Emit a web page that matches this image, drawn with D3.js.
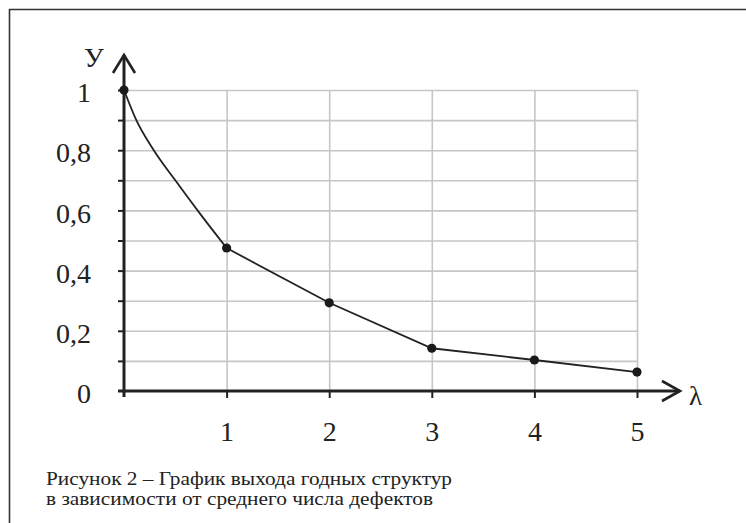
<!DOCTYPE html>
<html>
<head>
<meta charset="utf-8">
<script src="https://cdn.jsdelivr.net/npm/d3@7"></script>
<style>
  html, body { margin: 0; padding: 0; background: #fff; }
  svg { display: block; }
  text { font-family: "Liberation Serif", "Times New Roman", "DejaVu Serif", serif; fill: #222; }
</style>
</head>
<body>
<svg id="chart" width="746" height="523"></svg>
<script>
// данные
var lambdaTicks = [1, 2, 3, 4, 5];
var yLabelTicks = [0, 0.2, 0.4, 0.6, 0.8, 1];
var yLabelText = ["0", "0,2", "0,4", "0,6", "0,8", "1"];
var yGridTicks = [0.1, 0.2, 0.3, 0.4, 0.5, 0.6, 0.7, 0.8, 0.9, 1];
var lambdaPts = [0, 1, 2, 3, 4, 5];
var yieldPts = [1, 0.475, 0.293, 0.142, 0.103, 0.063];
// плавный участок кривой между 0 и 1
var curveLambda = [0, 0.12, 0.29, 0.5, 0.75, 1];
var curveYield = [1, 0.9, 0.8, 0.7, 0.585, 0.475];
var captionLines = ["Рисунок 2 – График выхода годных структур",
                    "в зависимости от среднего числа дефектов"];

var serif = "'Liberation Serif', 'Times New Roman', 'DejaVu Serif', serif";
var svg = d3.select("#chart");

var x = d3.scaleLinear().domain([0, 5]).range([124, 637]);
var y = d3.scaleLinear().domain([0, 1]).range([391, 90]);

// рамка (верх и лево)
svg.append("path")
  .attr("d", "M9.5,523 L9.5,9.5 L746,9.5")
  .attr("fill", "none")
  .attr("stroke", "#333")
  .attr("stroke-width", 1.6);

// сетка
svg.append("g")
  .attr("transform", "translate(0," + y(0) + ")")
  .call(d3.axisBottom(x).tickValues(lambdaTicks).tickSize(-(y(0) - y(1))).tickFormat(""))
  .call(function(g) { g.select(".domain").remove(); })
  .selectAll("line").attr("stroke", "#c6c6c6").attr("stroke-width", 1.6);

svg.append("g")
  .attr("transform", "translate(" + x(0) + ",0)")
  .call(d3.axisLeft(y).tickValues(yGridTicks).tickSize(-(x(5) - x(0))).tickFormat(""))
  .call(function(g) { g.select(".domain").remove(); })
  .selectAll("line").attr("stroke", "#c6c6c6").attr("stroke-width", 1.6);

// засечки на осях
svg.append("g")
  .attr("transform", "translate(" + x(0) + ",0)")
  .call(d3.axisLeft(y).tickValues(yGridTicks).tickSize(6).tickFormat(""))
  .call(function(g) { g.select(".domain").remove(); })
  .selectAll("line").attr("stroke", "#222").attr("stroke-width", 2);

svg.append("g")
  .attr("transform", "translate(0," + y(0) + ")")
  .call(d3.axisBottom(x).tickValues(lambdaTicks).tickSize(7).tickFormat(""))
  .call(function(g) { g.select(".domain").remove(); })
  .selectAll("line").attr("stroke", "#222").attr("stroke-width", 2);

// подписи осей
var yAx = svg.append("g")
  .attr("transform", "translate(" + x(0) + ",0)")
  .attr("font-family", serif)
  .call(d3.axisLeft(y).tickValues(yLabelTicks).tickSize(0).tickPadding(33)
    .tickFormat(function(d, i) { return yLabelText[i]; }));
yAx.select(".domain").remove();
yAx.selectAll("text")
  .attr("font-size", 28).attr("dy", "0.42em").attr("fill", "#222");

var xAx = svg.append("g")
  .attr("transform", "translate(0," + y(0) + ")")
  .call(d3.axisBottom(x).tickValues(lambdaTicks).tickSize(0).tickPadding(30)
    .tickFormat(d3.format("d")));
xAx.attr("font-family", serif);
xAx.select(".domain").remove();
xAx.selectAll("text")
  .attr("font-size", 28).attr("fill", "#222");

// оси со стрелками
svg.append("line")
  .attr("x1", x(0) - 6).attr("x2", 680)
  .attr("y1", y(0)).attr("y2", y(0))
  .attr("stroke", "#222").attr("stroke-width", 3);
svg.append("path")
  .attr("d", "M662,381 L680," + y(0) + " L662,401")
  .attr("fill", "none").attr("stroke", "#222").attr("stroke-width", 2.6);

svg.append("line")
  .attr("x1", x(0)).attr("x2", x(0))
  .attr("y1", y(0) + 6).attr("y2", 55)
  .attr("stroke", "#222").attr("stroke-width", 3);
svg.append("path")
  .attr("d", "M" + (x(0) - 11) + ",73 L" + x(0) + ",55 L" + (x(0) + 11) + ",73")
  .attr("fill", "none").attr("stroke", "#222").attr("stroke-width", 2.6);

svg.append("text")
  .attr("x", 94).attr("y", 67)
  .attr("text-anchor", "middle")
  .attr("font-size", 28)
  .text("У");

svg.append("text")
  .attr("x", 689).attr("y", 405)
  .attr("font-size", 27)
  .text("λ");

// кривая
svg.append("path")
  .datum(d3.zip(curveLambda, curveYield))
  .attr("d", d3.line().x(function(d) { return x(d[0]); }).y(function(d) { return y(d[1]); })
    .curve(d3.curveMonotoneX))
  .attr("fill", "none").attr("stroke", "#222").attr("stroke-width", 1.8);

svg.append("path")
  .datum(d3.zip(lambdaPts, yieldPts).slice(1))
  .attr("d", d3.line().x(function(d) { return x(d[0]); }).y(function(d) { return y(d[1]); }))
  .attr("fill", "none").attr("stroke", "#222").attr("stroke-width", 1.8);

svg.selectAll("circle.pt")
  .data(d3.zip(lambdaPts, yieldPts))
  .enter().append("circle")
  .attr("class", "pt")
  .attr("cx", function(d) { return x(d[0]); })
  .attr("cy", function(d) { return y(d[1]); })
  .attr("r", 4.6)
  .attr("fill", "#1a1a1a");

// подпись рисунка
svg.selectAll("text.cap")
  .data(captionLines)
  .enter().append("text")
  .attr("class", "cap")
  .attr("x", 46)
  .attr("y", function(d, i) { return 485 + i * 19.5; })
  .attr("font-size", 18)
  .attr("textLength", function(d, i) { return i === 0 ? 406 : 387; })
  .attr("lengthAdjust", "spacingAndGlyphs")
  .text(function(d) { return d; });
</script>
</body>
</html>
